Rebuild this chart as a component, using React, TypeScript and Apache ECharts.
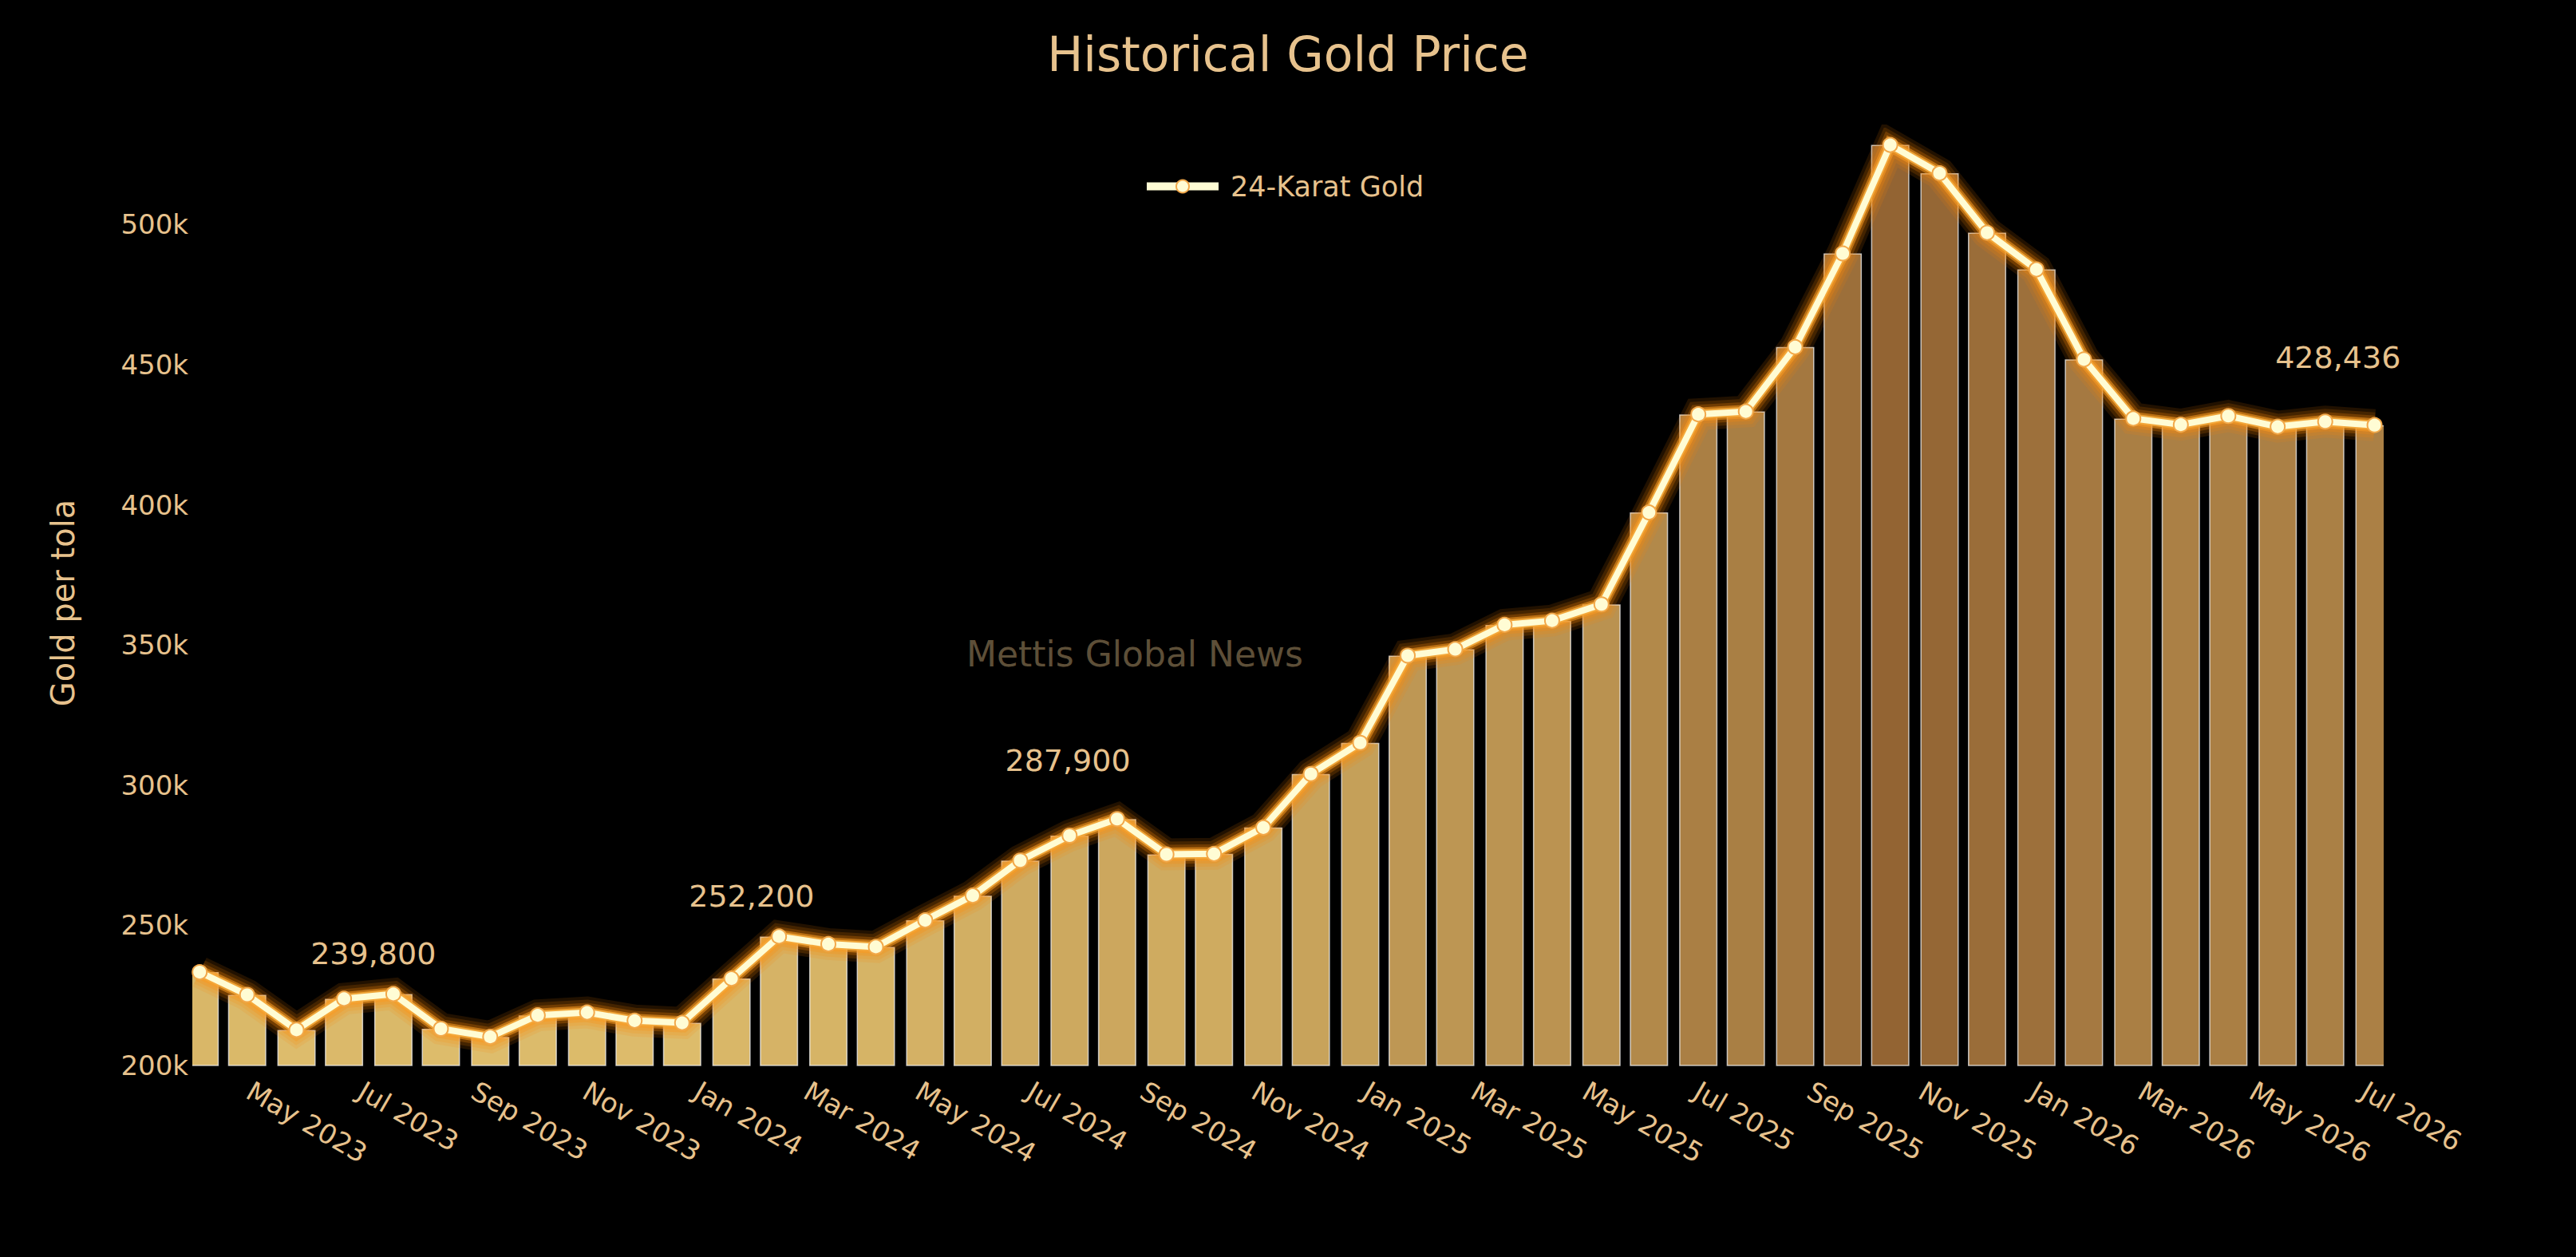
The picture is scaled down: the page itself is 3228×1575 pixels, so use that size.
import { useEffect, useRef } from "react";
import * as echarts from "echarts";

// one point per reading, dates
const dates = [
  "2023-04-04", "2023-04-30", "2023-05-27", "2023-06-22", "2023-07-19", "2023-08-14",
  "2023-09-10", "2023-10-06", "2023-11-02", "2023-11-28", "2023-12-24", "2024-01-20",
  "2024-02-15", "2024-03-13", "2024-04-08", "2024-05-05", "2024-05-31", "2024-06-26",
  "2024-07-23", "2024-08-18", "2024-09-14", "2024-10-10", "2024-11-06", "2024-12-02",
  "2024-12-29", "2025-01-24", "2025-02-19", "2025-03-18", "2025-04-13", "2025-05-10",
  "2025-06-05", "2025-07-02", "2025-07-28", "2025-08-24", "2025-09-19", "2025-10-15",
  "2025-11-11", "2025-12-07", "2026-01-03", "2026-01-29", "2026-02-25", "2026-03-23",
  "2026-04-18", "2026-05-15", "2026-06-10", "2026-07-07",
];

const prices = [
  233300, 225200, 212700, 223800, 225500, 213100,
  210200, 217900, 218900, 216000, 215200, 231000,
  246000, 243300, 242300, 251800, 260600, 273100,
  282000, 287900, 275300, 275500, 284900, 304000,
  315100, 346200, 348500, 357200, 358700, 364500,
  397300, 432300, 433300, 456300, 489700, 528400,
  518300, 497100, 484000, 451900, 430800, 428600,
  431700, 427900, 429700, 428436,
];

const tickLabels = [
  "May 2023", "Jul 2023", "Sep 2023", "Nov 2023", "Jan 2024", "Mar 2024",
  "May 2024", "Jul 2024", "Sep 2024", "Nov 2024", "Jan 2025", "Mar 2025",
  "May 2025", "Jul 2025", "Sep 2025", "Nov 2025", "Jan 2026", "Mar 2026",
  "May 2026", "Jul 2026",
];

const yTicks = [200000, 250000, 300000, 350000, 400000, 450000, 500000];

// value annotations: where the text sits, and what it says
const noteDates = ["2023-07-08", "2024-01-31", "2024-07-22", "2026-06-17"];
const noteLevels = [239900, 260300, 308800, 452600];
const noteValues = [239800, 252200, 287900, 428436];

const MONTHS = ["Jan", "Feb", "Mar", "Apr", "May", "Jun", "Jul", "Aug", "Sep", "Oct", "Nov", "Dec"];
const FONT = "DejaVu Sans";
const TEXT = "#E7C28D";
const LINE = "#FFFCD4";
const SERIES_NAME = "24-Karat Gold";

const GRID = { left: 241, right: 241, top: 176, bottom: 240 };

const toTime = (s: string) => {
  const [y, m, d] = s.split("-").map(Number);
  return new Date(y, m - 1, d).getTime();
};

const labelTime = (label: string) => {
  const [mon, year] = label.split(" ");
  return new Date(Number(year), MONTHS.indexOf(mon), 1).getTime();
};

export default function App() {
  const divRef = useRef<HTMLDivElement>(null);

  useEffect(() => {
    if (!divRef.current) return;
    const chart = echarts.init(divRef.current, null, { renderer: "svg" });
    const W = chart.getWidth();
    const H = chart.getHeight();

    const points = dates.map((d, i) => [toTime(d), prices[i]]);
    const tickTimes = tickLabels.map(labelTime);

    // stacked translucent strokes behind the main line give the glow
    const glow = [
      { width: 40, color: "rgba(255,130,0,0.13)" },
      { width: 32, color: "rgba(255,135,0,0.16)" },
      { width: 24, color: "rgba(255,140,10,0.24)" },
      { width: 17, color: "rgba(250,155,35,0.55)" },
      { width: 12, color: "rgba(245,170,60,0.9)" },
    ];

    // bars on a value axis are not clipped at the grid edge, so mask the overflow
    const plotH = H - GRID.top - GRID.bottom;
    const masks = [
      { x: GRID.left - 40, w: 40 },
      { x: W - GRID.right, w: 40 },
    ].map((m) => ({
      type: "rect",
      z: 3,
      shape: { x: m.x, y: GRID.top, width: m.w, height: plotH + 4 },
      style: { fill: "#000" },
      silent: true,
    }));

    const option = {
      animation: false,
      backgroundColor: "#000",
      title: {
        text: "Historical Gold Price",
        left: "center",
        top: 33,
        textStyle: { color: TEXT, fontSize: 60, fontWeight: "normal", fontFamily: FONT },
      },
      legend: {
        data: [SERIES_NAME],
        left: 1432,
        top: 216,
        padding: 0,
        itemWidth: 90,
        itemHeight: 20,
        lineStyle: { width: 10 },
        textStyle: { color: TEXT, fontSize: 35, fontFamily: FONT, padding: [0, 0, 0, 10] },
      },
      grid: GRID,
      visualMap: {
        type: "continuous",
        show: false,
        seriesIndex: 0,
        dimension: 1,
        min: 210200,
        max: 528400,
        inRange: { color: ["#DEBD6C", "#936433"] },
      },
      graphic: [
        {
          type: "text",
          x: 1422,
          y: 819,
          z: 0,
          style: {
            text: "Mettis Global News",
            fontSize: 44,
            fontFamily: FONT,
            fill: "rgba(230,195,138,0.42)",
            align: "center",
            verticalAlign: "middle",
          },
        },
        ...masks,
      ],
      xAxis: {
        type: "value",
        min: toTime("2023-03-31"),
        max: toTime("2026-07-12"),
        z: 5,
        axisLine: { show: false },
        axisTick: { show: false },
        splitLine: { show: false },
        axisLabel: {
          customValues: tickTimes,
          rotate: -30,
          margin: 29,
          color: TEXT,
          fontSize: 34,
          fontFamily: FONT,
          formatter: (v: number) => tickLabels[tickTimes.indexOf(v)] ?? "",
        },
      },
      yAxis: {
        type: "value",
        min: 200000,
        max: 530000,
        z: 5,
        name: "Gold per tola",
        nameLocation: "middle",
        nameGap: 142,
        nameTextStyle: { color: TEXT, fontSize: 40, fontFamily: FONT },
        axisLine: { show: false },
        axisTick: { show: false },
        splitLine: { show: false },
        axisLabel: {
          customValues: yTicks,
          margin: 5,
          color: TEXT,
          fontSize: 34,
          fontFamily: FONT,
          formatter: (v: number) => `${v / 1000}k`,
        },
      },
      series: [
        {
          type: "bar",
          name: "bars",
          data: points,
          barWidth: 48,
          itemStyle: { borderColor: "rgba(240,240,240,0.75)", borderWidth: 1.5 },
          silent: true,
        },
        ...glow.map((g, i) => ({
          type: "line",
          name: `glow${i}`,
          data: points,
          showSymbol: false,
          silent: true,
          z: 4,
          lineStyle: { width: g.width, color: g.color, join: "miter" },
        })),
        {
          type: "line",
          name: SERIES_NAME,
          data: points,
          z: 6,
          symbol: "circle",
          symbolSize: 18,
          showAllSymbol: true,
          lineStyle: { width: 8, color: LINE, join: "round" },
          itemStyle: { color: LINE, borderColor: "#F2A84A", borderWidth: 2 },
          markPoint: {
            symbol: "rect",
            symbolSize: 1,
            itemStyle: { color: "rgba(0,0,0,0)" },
            label: {
              show: true,
              position: "inside",
              color: TEXT,
              fontSize: 38,
              fontFamily: FONT,
              formatter: (p: any) => p.name,
            },
            data: noteDates.map((d, i) => ({
              name: noteValues[i].toLocaleString("en-US"),
              coord: [toTime(d), noteLevels[i]],
            })),
          },
        },
      ],
    };

    chart.setOption(option as any);

    const handleResize = () => chart.resize();
    window.addEventListener("resize", handleResize);
    return () => {
      window.removeEventListener("resize", handleResize);
      chart.dispose();
    };
  }, []);

  return (
    <div
      ref={divRef}
      style={{ position: "fixed", left: 0, top: 0, width: "100vw", height: "100vh", background: "#000" }}
    />
  );
}
